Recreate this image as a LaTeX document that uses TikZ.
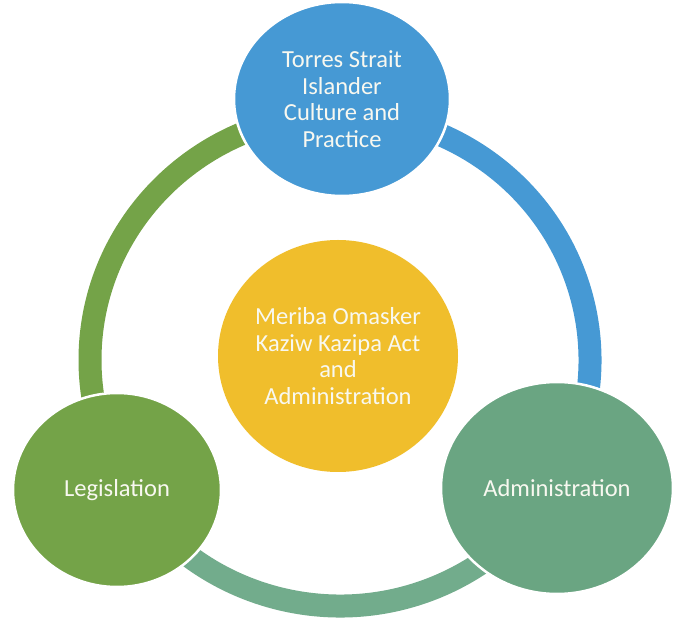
\documentclass[tikz,border=0pt]{standalone}
\usepackage{fontspec}
\setmainfont{Carlito}
\usetikzlibrary{calc,shapes.geometric}
\definecolor{cycblue}{RGB}{70,153,212}
\definecolor{cycgreen}{RGB}{116,163,72}
\definecolor{cycteal}{RGB}{106,165,130}
\definecolor{cycteallight}{RGB}{114,172,140}
\definecolor{cycyellow}{RGB}{240,190,44}
\definecolor{cyctext}{RGB}{248,248,240}
\begin{document}
\begin{tikzpicture}[x=1pt,y=1pt,
  bubble/.style={ellipse, draw=white, line width=2.5pt, inner sep=0pt,
    text=cyctext, align=center, font=\fontsize{24.5}{26.5}\selectfont},
  ringarc/.style={line width=23pt, line cap=butt}]
  \useasboundingbox (0,0) rectangle (673,619);
  \fill[white] (0,0) rectangle (673,619);

  % centre of the cycle ring
  \coordinate (ring) at (340,259);

  % ring segments, each one running between two of the outer bubbles
  \draw[ringarc, cycgreen] ($(ring)+(90:250 and 246)$) arc[start angle=90, end angle=212, x radius=250, y radius=246];
  \draw[ringarc, cycblue] ($(ring)+(-32:250 and 246)$) arc[start angle=-32, end angle=90, x radius=250, y radius=246];
  \draw[ringarc, cycteallight] ($(ring)+(210:250 and 246)$) arc[start angle=210, end angle=330, x radius=250, y radius=246];

  % outer bubbles
  \node[bubble, fill=cycblue, minimum width=216, minimum height=194] (culture) at (342,520)
    {Torres Strait\\Islander\\Culture and\\Practice};
  \node[bubble, fill=cycgreen, minimum width=208, minimum height=194] (legis) at (117,129)
    {Legislation};
  \node[bubble, fill=cycteal, minimum width=232, minimum height=212] (admin) at (557,131)
    {Administration};

  % central bubble
  \node[bubble, fill=cycyellow, draw=none, minimum width=240, minimum height=232] (act) at (338,263)
    {Meriba Omasker\\Kaziw Kazipa Act\\and\\Administration};
\end{tikzpicture}
\end{document}
